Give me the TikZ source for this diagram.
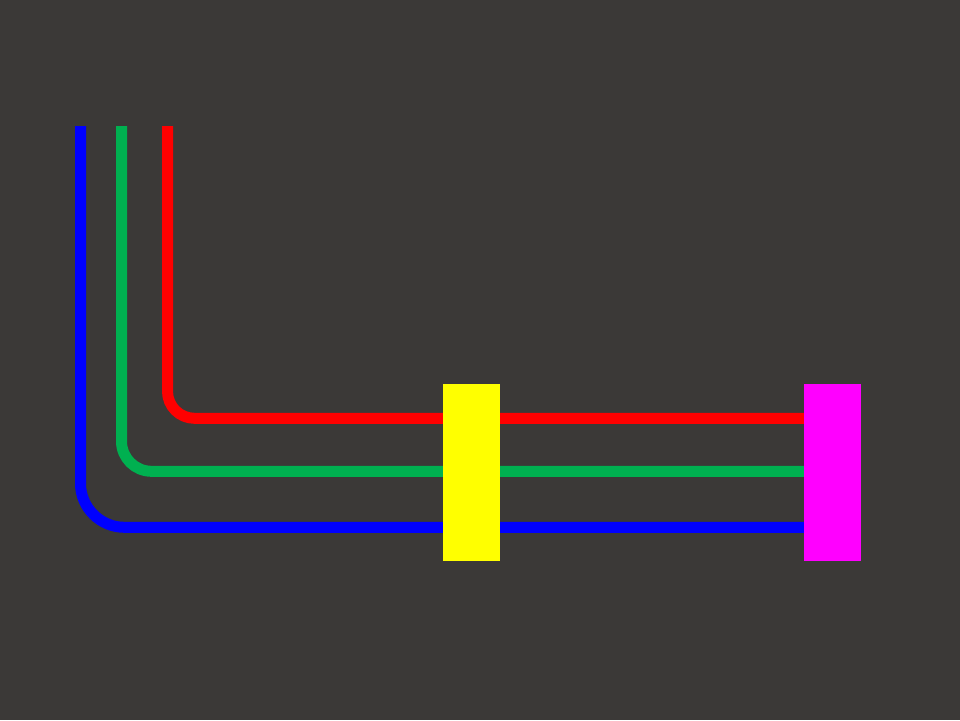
\documentclass[tikz,border=0pt]{standalone}
\definecolor{backdrop}{HTML}{3B3937}
\definecolor{wiregreen}{HTML}{00B050}
\definecolor{wirered}{HTML}{FF0000}
\definecolor{wireblue}{HTML}{0000FF}
\definecolor{filteryellow}{HTML}{FFFF00}
\definecolor{sinkmagenta}{HTML}{FF00FF}
\tikzset{wire/.style={line width=11pt},block/.style={inner sep=0pt,minimum width=57pt,minimum height=177pt}}
\begin{document}
\begin{tikzpicture}[x=1pt,y=-1pt]
\fill[backdrop](0,0) rectangle (960,720);\useasboundingbox(0,0) rectangle (960,720);
\coordinate(redtop)at(167.5,126);\coordinate(greentop)at(121.5,126);\coordinate(bluetop)at(80.5,126);
\node[block](sink)at(832.5,472.5){};
\draw[wire,wirered,rounded corners=27pt](redtop)|-(sink.center |- 0,418.3);
\draw[wire,wiregreen,rounded corners=30pt](greentop)|-(sink.center |- 0,471.3);
\draw[wire,wireblue,rounded corners=44pt](bluetop)|-(sink.center |- 0,527.3);
\node[block,fill=filteryellow](filter)at(471.5,472.5){};\node[block,fill=sinkmagenta]at(sink){};
\end{tikzpicture}
\end{document}
